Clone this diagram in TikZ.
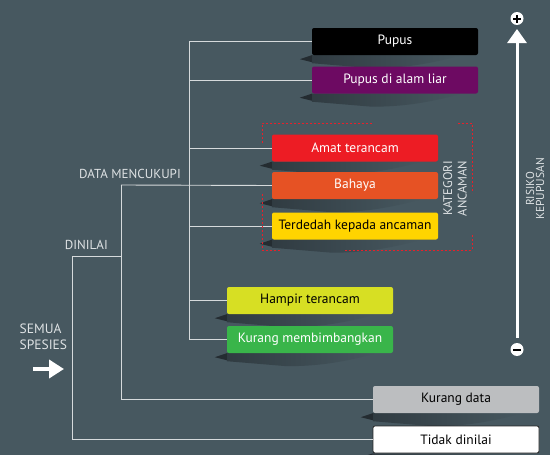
\documentclass[tikz,border=0pt]{standalone}
\usepackage{fontspec}
\setmainfont{PT Sans}
\usetikzlibrary{positioning}
\usetikzlibrary{backgrounds}
\usetikzlibrary{arrows.meta}

\definecolor{latar}{RGB}{71,88,96}
\definecolor{garisabu}{RGB}{214,218,220}
\definecolor{tulisan}{RGB}{222,226,228}
\definecolor{bayanggelap}{RGB}{36,44,49}
\definecolor{ungu}{RGB}{109,10,98}
\definecolor{merahterang}{RGB}{237,28,36}
\definecolor{jingga}{RGB}{230,82,36}
\definecolor{kuning}{RGB}{255,212,0}
\definecolor{kuninghijau}{RGB}{215,223,35}
\definecolor{hijau}{RGB}{57,181,74}
\definecolor{kelabu}{RGB}{188,190,192}
\definecolor{merahputus}{RGB}{232,32,42}

\tikzset{
  kotak/.style={rounded corners=2pt, minimum width=166pt, minimum height=27pt, inner sep=0pt, font=\fontsize{13.5}{16}\selectfont},
  garis/.style={draw=garisabu, line width=0.9pt},
  label kiri/.style={text=tulisan, inner sep=0pt, font=\fontsize{13}{15.5}\selectfont},
  label tegak/.style={text=tulisan, inner sep=0pt, rotate=90, align=center, font=\fontsize{12.5}{14.5}\selectfont},
  garis merah/.style={draw=merahputus, line width=0.8pt, dash pattern=on 2pt off 2pt},
  bulat/.style={circle, fill=white, minimum size=13pt, inner sep=0pt}
}

% bayang di bawah setiap kotak
\newcommand{\bayang}[1]{%
  \begin{scope}[shift={(#1.south west)}]
    \shade[left color=bayanggelap!65!latar, right color=latar] (0,0) -- (150,0) .. controls (120,8) and (95,13) .. (60,13) -- (0,8) -- cycle;
    \fill[bayanggelap] (-12,4) -- (0,0) -- (0,7) -- cycle;
  \end{scope}}

\begin{document}
\begin{tikzpicture}[x=1pt, y=-1pt]
\useasboundingbox (0,0) rectangle (550,455);

\node (pupus) [kotak, fill=black, text=white] at (395,41.5) {Pupus};
\node (alamliar) [kotak, fill=ungu, text=white] at (395,80) {Pupus di alam liar};
\node (amat) [kotak, fill=merahterang, text=white] at (355,148) {Amat terancam};
\node (bahaya) [kotak, fill=jingga, text=white] at (355,185.5) {Bahaya};
\node (terdedah) [kotak, fill=kuning, text=black] at (355,226) {Terdedah kepada ancaman};
\node (hampir) [kotak, fill=kuninghijau, text=black] at (310,300.5) {Hampir terancam};
\node (kurang) [kotak, fill=hijau, text=white] at (310,339.5) {Kurang membimbangkan};
\node (kurangdata) [kotak, fill=kelabu, text=black] at (456,399.5) {Kurang data};
\node (tidak) [kotak, fill=white, draw=black!85, line width=0.8pt, text=black] at (456,439.5) {Tidak dinilai};

\coordinate (j0) at (72,256);
\coordinate (j1) at (121,185);
\coordinate (j2) at (189,185);

\draw [garis] (j0) |- (tidak.west);
\draw [garis] (j0) -| (j1);
\draw [garis] (j1) |- (kurangdata.west);
\draw [garis] (j1) -- (bahaya.west);
\foreach \n in {pupus, alamliar, amat, terdedah, hampir, kurang}
  \draw [garis] (j2) |- (\n.west);

\node (mencukupi) [label kiri, anchor=base east] at (181,178.5) {DATA MENCUKUPI};
\node (dinilai) [label kiri, anchor=base east] at (108,249.5) {DINILAI};
\node (semua) [label kiri, anchor=north west, align=left, font=\fontsize{13.5}{16}\selectfont] at (19.5,323.5) {SEMUA\\SPESIES};

\coordinate (masukawal) at (33,369);
\coordinate (masukakhir) at (64,369);
\draw [white, line width=4pt, -{Triangle[width=18pt,length=15pt]}] (masukawal) -- (masukakhir);

% kategori ancaman
\draw [garis merah] (262,143) -- (262,123) -- (373,123);
\draw [garis merah] (458,123) -- (472,123) -- (472,193);
\draw [garis merah] (472,235) -- (472,250) -- (345,250);
\draw [garis merah] (280,250) -- (262,250) -- (262,193);
\node (kategori) [label tegak] at (455,188.5) {KATEGORI\\ANCAMAN};

% risiko kepupusan
\coordinate (risikobawah) at (517,338);
\coordinate (risikoatas) at (517,29);
\draw [white, line width=3pt, -{Triangle[width=19pt,length=14pt]}] (risikobawah) -- (risikoatas);
\node (tambah) [bulat] at (517,18.5) {};
\node (tolak) [bulat] at (517,349.5) {};
\draw [black, line width=2pt] ([xshift=-4pt]tambah.center) -- ([xshift=4pt]tambah.center);
\draw [black, line width=2pt] ([yshift=-4pt]tambah.center) -- ([yshift=4pt]tambah.center);
\draw [black, line width=2pt] ([xshift=-4pt]tolak.center) -- ([xshift=4pt]tolak.center);
\node (risiko) [label tegak, font=\fontsize{11.5}{10}\selectfont] at (535,189) {RISIKO\\KEPUPUSAN};

\begin{scope}[on background layer]
\fill [latar] (0,0) rectangle (550,455);
\foreach \n in {pupus, alamliar, amat, bahaya, terdedah, hampir, kurang, kurangdata, tidak}
  {\bayang{\n}}
\end{scope}

\end{tikzpicture}
\end{document}
